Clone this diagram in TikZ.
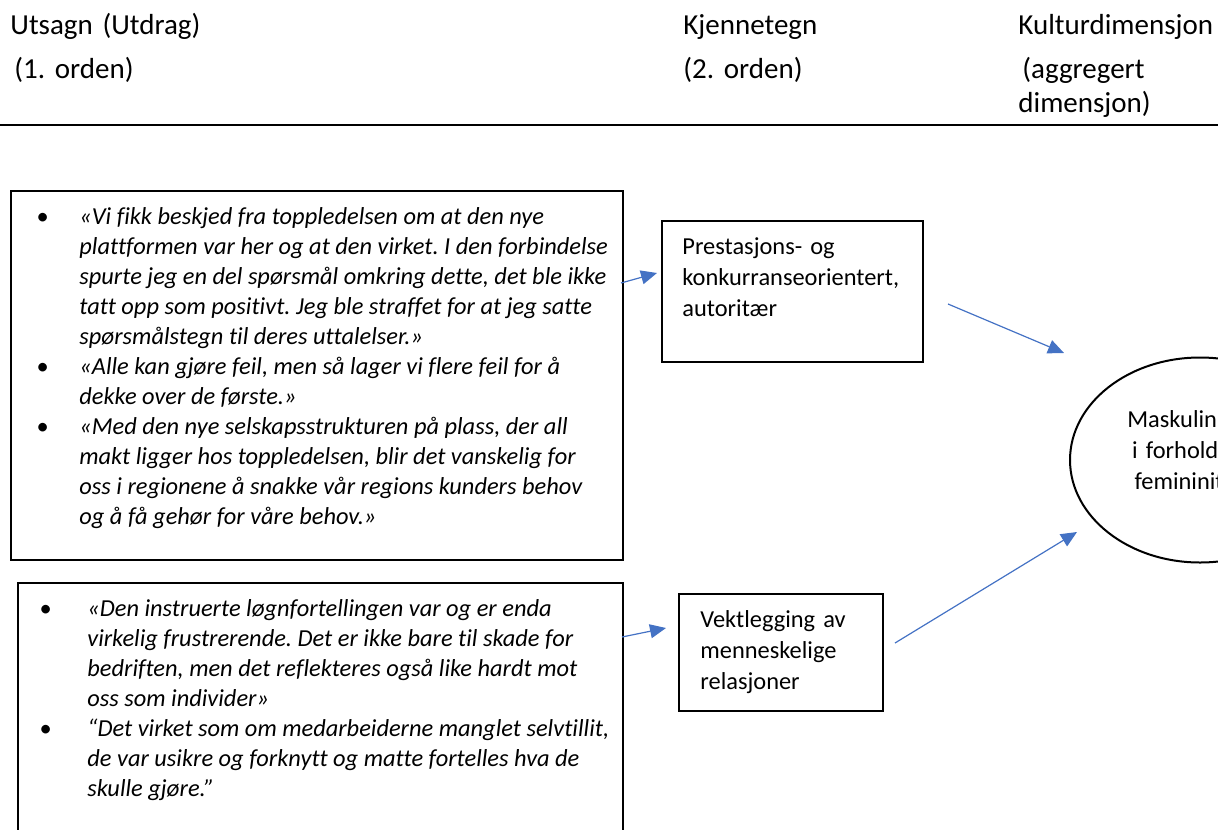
\documentclass[tikz,border=0pt]{standalone}
\usepackage{fontspec}
\setmainfont{Carlito}[Ligatures={TeX,NoCommon}]
\usetikzlibrary{arrows.meta,positioning,shapes.geometric}

\definecolor{pilblaa}{HTML}{4472C4}

\newcommand{\overskriftfont}{\fontsize{14.5}{17}\selectfont}
\newcommand{\sitatfont}{\fontsize{12.2}{15}\selectfont\itshape}
\newcommand{\boksfont}{\fontsize{12.2}{15.5}\selectfont}
\frenchspacing

\tikzset{
  kolonne/.style={anchor=base west, inner sep=0pt, text width=120pt, align=left, font=\overskriftfont},
  ramme/.style={draw, line width=1pt, inner sep=0pt, anchor=north west},
  sitat/.style={anchor=base west, inner sep=0pt, font=\sitatfont},
  kjenn/.style={anchor=base west, inner sep=0pt, text width=120pt, align=left, font=\boksfont},
  sirkel/.style={draw, ellipse, line width=1pt, inner sep=0pt},
  pil/.style={draw=pilblaa, line width=0.6pt, -{Triangle[length=8pt,width=7pt]}}
}

\begin{document}
\begin{tikzpicture}[x=0.5pt, y=-0.5pt]
\useasboundingbox (0,0) rectangle (1218,829);
\clip (0,0) rectangle (1218,829);

% overskrifter
\node[kolonne] (utsagn) at (10,35) {Utsagn (Utdrag)\\[5pt]\hspace*{2pt}(1. orden)};
\node[kolonne] (kjennetegn) at (683,35) {Kjennetegn\\[5pt](2. orden)};
\node[kolonne] (kultur) at (1018,35) {Kulturdimensjon\\[5pt]\hspace*{2pt}(aggregert\\dimensjon)};
\draw[line width=1pt] (0,125) -- (1218,125);

% rammer
\node[ramme, minimum width=306pt, minimum height=184.5pt] (ramme1) at (10,190) {};
\node[ramme, minimum width=302.5pt, minimum height=150pt] (ramme2) at (17,582) {};
\node[ramme, minimum width=130.5pt, minimum height=70.5pt] (prestboks) at (661,220) {};
\node[ramme, minimum width=102pt, minimum height=58.5pt] (vektboks) at (678,593) {};
\node[sirkel, minimum width=130pt, minimum height=102.5pt] (dimensjon) at (1200,460) {};

% sitater
\node[sitat] (sitater1) at (36,224) {%
\begin{tabular}[t]{@{}p{21.5pt}@{}l@{}}
\textbullet & «Vi fikk beskjed fra toppledelsen om at den nye\\
 & plattformen var her og at den virket. I den forbindelse\\
 & spurte jeg en del spørsmål omkring dette, det ble ikke\\
 & tatt opp som positivt. Jeg ble straffet for at jeg satte\\
 & spørsmålstegn til deres uttalelser.»\\
\textbullet & «Alle kan gjøre feil, men så lager vi flere feil for å\\
 & dekke over de første.»\\
\textbullet & «Med den nye selskapsstrukturen på plass, der all\\
 & makt ligger hos toppledelsen, blir det vanskelig for\\
 & oss i regionene å snakke vår regions kunders behov\\
 & og å få gehør for våre behov.»
\end{tabular}};
\node[sitat] (sitater2) at (39,616) {%
\begin{tabular}[t]{@{}p{24pt}@{}l@{}}
\textbullet & «Den instruerte løgnfortellingen var og er enda\\
 & virkelig frustrerende. Det er ikke bare til skade for\\
 & bedriften, men det reflekteres også like hardt mot\\
 & oss som individer»\\
\textbullet & “Det virket som om medarbeiderne manglet selvtillit,\\
 & de var usikre og forknytt og matte fortelles hva de\\
 & skulle gjøre.”
\end{tabular}};

% kjennetegn og dimensjon
\node[kjenn] (prestasjon) at (682,254) {Prestasjons- og\\konkurranseorientert,\\autoritær};
\node[kjenn] (vektlegging) at (700,627) {Vektlegging av\\menneskelige\\relasjoner};
\node[kjenn, text width=100pt, align=center, anchor=base] (dimtekst) at (1189,427) {Maskulinitet\\i forhold til\\femininitet};

% piler
\coordinate (fra1) at (621,283);
\coordinate (til1) at (657,273);
\coordinate (fra2) at (622,637);
\coordinate (til2) at (666,628);
\coordinate (fra3) at (948,304);
\coordinate (til3) at (1064,353);
\coordinate (fra4) at (895,643);
\coordinate (til4) at (1077,532);
\draw[pil] (fra1) -- (til1);
\draw[pil] (fra2) -- (til2);
\draw[pil] (fra3) -- (til3);
\draw[pil] (fra4) -- (til4);
\end{tikzpicture}
\end{document}
